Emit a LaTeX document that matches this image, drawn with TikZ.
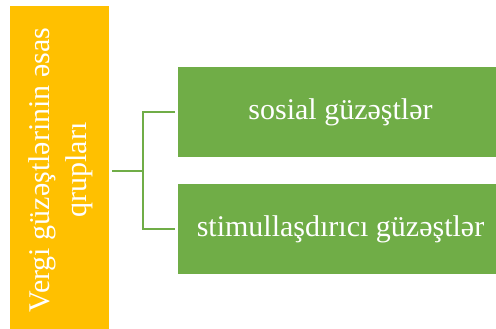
\documentclass[tikz,border=0pt]{standalone}
\usepackage{fontspec}
\setmainfont{Liberation Serif}
\definecolor{accentgold}{HTML}{FFC000}
\definecolor{accentgreen}{HTML}{70AD47}
\begin{document}
\begin{tikzpicture}[x=1pt,y=-1pt,
  every node/.style={inner sep=0pt, outer sep=0pt, text=white,
    font=\fontsize{30}{37}\selectfont},
  leadbox/.style={fill=accentgold, minimum width=99pt, minimum height=328pt},
  groupbox/.style={fill=accentgreen, minimum width=325pt, minimum height=90pt},
  link/.style={draw=accentgreen, line width=2pt}]
  \path[use as bounding box, clip] (0,0) rectangle (496,329);
  % title column
  \node[leadbox] (lead) at (59.5,170) {};
  \node[rotate=90, align=center] (leadtext) at (61,170)
    {Vergi güzəştlərinin əsas\\qrupları};
  % the two groups
  \node[groupbox] (social) at (340.5,112) {sosial güzəştlər};
  \node[groupbox] (stim) at (340.5,229) {stimullaşdırıcı güzəştlər};
  % bracket joining them
  \coordinate (joint) at (143,171);
  \draw[link] ([xshift=3pt]lead.east |- joint) -- (joint);
  \draw[link] ([xshift=-3pt]social.west) -| (joint) |- ([xshift=-3pt]stim.west);
\end{tikzpicture}
\end{document}
